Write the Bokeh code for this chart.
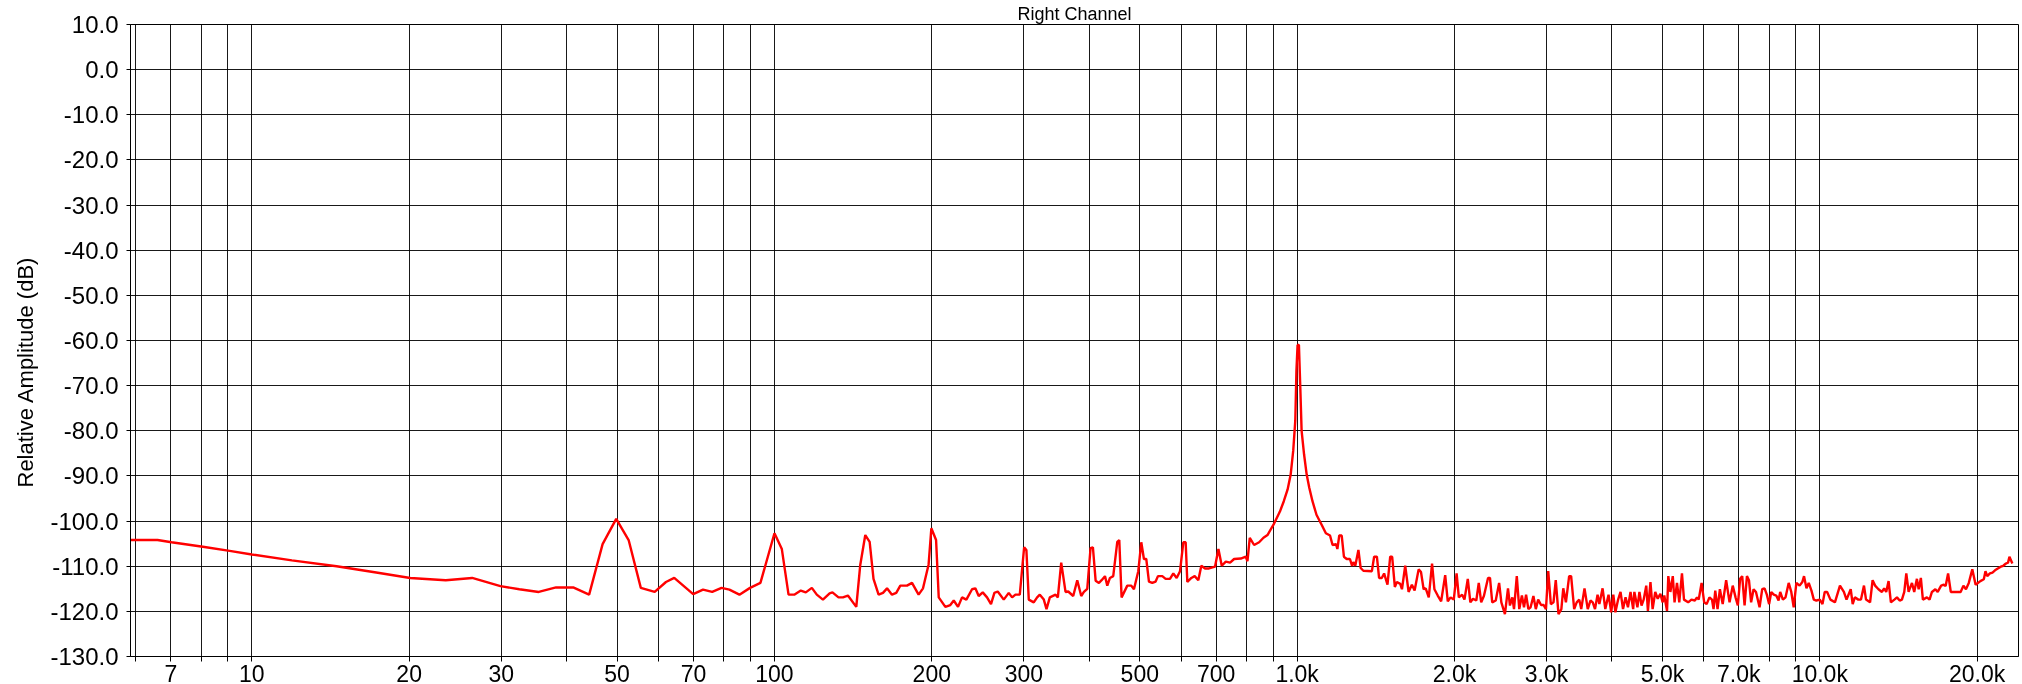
from bokeh.plotting import figure
from bokeh.models import Range1d, FixedTicker, ColumnDataSource, Title
from bokeh.embed import file_html
from bokeh.resources import INLINE

# ---- data ----
freq_hz = [
    5.86, 6.60, 7.02, 8.06, 9.07, 10.0, 11.93, 14.53, 17.3, 20.1, 23.5, 26.4, 29.9, 32.5,
    35.4, 38.2, 41.2, 44.2, 46.9, 49.8, 52.6, 55.5, 59.0, 62.0, 64.3, 69.9, 73.0, 76.0,
    79.2, 82.0, 85.7, 89.8, 94.0, 100.0,
    103.3, 106.4, 109.1, 112.3, 114.8, 117.9, 120.5, 123.8, 127.5, 129.1, 132.6, 135.2,
    138.2, 143.4, 145.9, 149.2, 152.1, 154.7, 158.2, 161.3, 164.2, 167.8, 171.0, 174.1,
    179.3, 183.3, 188.7, 192.4, 197.2, 199.6, 203.8, 206.2, 212.3, 217.0, 220.3, 224.5,
    228.5, 232.9, 238.8, 242.3, 245.9, 250.3, 255.1, 259.6, 263.5, 267.4, 274.6, 280.7,
    284.9, 289.1, 294.7, 300.4, 303.4, 306.6, 313.4, 318.1, 321.9, 327.6, 331.5, 336.4,
    345.0, 348.5, 353.7, 360.5, 364.8, 372.9, 379.6, 386.3, 390.9, 396.7, 402.5, 406.7,
    411.6, 417.7, 422.6, 428.9, 433.3, 438.4, 444.8, 452.8, 456.8, 461.5, 473.2, 481.6,
    487.3, 496.7, 503.3, 509.2, 514.5, 520.6, 528.3, 536.1, 541.7, 552.1, 560.3, 571.1,
    579.6, 588.2, 597.0, 605.7, 612.0, 616.5, 627.5, 636.8, 647.1, 655.7, 666.5, 678.3,
    696.5, 707.0, 717.5, 730.3, 744.3, 757.6, 780.2, 797.6, 803.5, 811.7, 827.4, 845.9,
    862.2, 877.6,
    904, 927, 943, 959, 972, 983, 992, 997, 1002, 1008, 1014, 1020, 1031, 1043, 1055,
    1070, 1089,
    1114, 1135, 1156, 1169, 1187, 1194, 1204, 1217, 1229, 1244, 1262, 1274, 1281, 1292,
    1310, 1323, 1339, 1390, 1404, 1421, 1435, 1452, 1467, 1489, 1507, 1520, 1538, 1552,
    1575, 1587, 1610, 1634, 1658, 1678, 1708, 1726, 1746, 1762, 1786, 1812, 1831, 1858,
    1886, 1920, 1942, 1966, 1994, 2019, 2039, 2069, 2090, 2121, 2145, 2170, 2202, 2226,
    2250, 2277, 2319, 2339, 2362, 2399, 2435, 2459, 2498, 2532, 2554, 2581, 2600, 2632,
    2661, 2692, 2717, 2742, 2770, 2797, 2832, 2862, 2892, 2929, 2963, 2993, 3023, 3058,
    3094, 3125, 3163, 3203, 3230, 3268, 3315, 3344, 3389, 3427, 3466, 3496, 3547, 3598,
    3641, 3678, 3715, 3757, 3787, 3841, 3887, 3943, 3990, 4027, 4064, 4113, 4157, 4203,
    4250, 4295, 4344, 4395, 4418, 4478, 4518, 4560, 4603, 4656, 4690, 4743, 4788, 4844,
    4897, 4954, 5005, 5041, 5102, 5131, 5178, 5233, 5274, 5331, 5385, 5449, 5498, 5600,
    5681, 5767, 5822, 5866, 5941,
    6010, 6075, 6150, 6220, 6262, 6310, 6374, 6440, 6520, 6620, 6720, 6815, 6900, 6970,
    7040, 7105, 7180, 7255, 7320, 7390, 7470, 7550, 7670, 7760, 7840, 7920, 8000, 8075,
    8165, 8255, 8340, 8400, 8500, 8600, 8720, 8820, 8915, 9020, 9150, 9260, 9330, 9430,
    9525, 9640, 9740, 9850, 10000, 10120, 10220, 10330, 10480, 10690, 10930, 11120, 11250,
    11460, 11560, 11670, 11850, 11990, 12150, 12260, 12480, 12620, 12760, 12950, 13150,
    13280, 13400, 13540, 13680, 13890, 14050, 14220, 14360, 14510, 14640, 14790, 15010,
    15160, 15340, 15460, 15610, 15750, 16030, 16220, 16390, 16640, 16810, 17070, 17270,
    17410, 17600, 17810, 18600, 18830, 19040, 19280, 19580, 19870, 20290, 20600, 20750,
    20910, 21160, 21400, 21640, 21910, 22200, 22440, 22710, 22920, 23060, 23360,
]
level_db = [
    -104.2, -104.2, -104.7, -105.7, -106.6, -107.4, -108.7, -110.0, -111.4, -112.6, -113.1,
    -112.6, -114.4, -115.1, -115.7, -114.7, -114.7, -116.3, -105.1, -99.5, -104.2, -114.8,
    -115.7, -113.5, -112.6, -116.2, -115.2, -115.7, -114.8, -115.2, -116.3, -114.8, -113.7,
    -102.7,
    -106.2, -116.3, -116.3, -115.4, -115.8, -114.8, -116.3, -117.4, -116.0, -115.8, -116.9,
    -116.9, -116.5, -119.0, -109.8, -103.1, -104.6, -112.8, -116.3, -115.9, -114.9, -116.3,
    -115.9, -114.3, -114.3, -113.7, -116.3, -114.9, -109.6, -101.6, -104.2, -116.9, -119.0,
    -118.6, -117.6, -119.0, -116.9, -117.4, -115.1, -114.9, -116.6, -115.8, -116.9, -118.4,
    -115.9, -115.6, -117.4, -115.9, -116.9, -116.3, -116.3, -105.8, -106.4, -117.4, -118.0,
    -116.9, -116.3, -117.4, -119.5, -116.9, -116.3, -116.9, -109.2, -115.7, -115.6, -116.6,
    -113.1, -116.6, -115.7, -115.0, -106.0, -105.8, -113.2, -113.7, -113.1, -112.2, -114.3,
    -112.6, -112.2, -104.6, -104.2, -116.9, -114.3, -114.3, -115.1, -111.1, -104.7, -108.4,
    -108.4, -113.4, -113.7, -113.4, -112.2, -112.2, -112.8, -112.8, -111.6, -112.6, -111.1,
    -104.7, -104.7, -113.5, -112.6, -112.2, -113.1, -109.9, -110.5, -110.5, -110.1, -106.2,
    -109.9, -109.0, -109.2, -108.4, -108.3, -107.9, -108.9, -103.7, -105.3, -104.7, -103.7,
    -103.1,
    -100.5, -97.9, -95.6, -93.0, -89.7, -84.4, -77.7, -66.6, -61.0, -61.0, -70.3, -80.0,
    -85.2, -89.7, -92.6, -95.6, -98.6,
    -100.8, -102.7, -103.2, -105.3, -105.1, -106.2, -103.2, -103.2, -107.9, -108.4, -108.4,
    -109.9, -109.1, -109.9, -106.4, -110.4, -111.0, -111.1, -107.9, -107.9, -112.6, -112.6,
    -111.6, -114.1, -107.9, -107.9, -114.6, -113.5, -113.9, -115.1, -109.9, -115.7, -114.1,
    -115.4, -110.7, -111.3, -115.1, -114.9, -116.9, -109.4, -115.1, -116.5, -117.8, -112.0,
    -117.8, -116.9, -117.4, -111.6, -116.9, -116.3, -117.4, -112.8, -118.0, -117.2, -117.6,
    -113.7, -118.0, -116.6, -112.6, -112.6, -118.0, -117.6, -113.7, -118.0, -120.6, -114.9,
    -118.7, -116.9, -119.5, -112.2, -119.5, -116.5, -119.1, -116.3, -119.5, -119.1, -116.6,
    -119.5, -117.4, -118.6, -118.6, -119.5, -111.1, -118.4, -118.0, -113.1, -120.6, -119.5,
    -114.9, -118.0, -112.2, -112.2, -119.5, -118.0, -117.4, -119.5, -114.9, -119.5, -117.6,
    -118.0, -119.5, -116.3, -118.4, -114.9, -119.5, -116.3, -120.2, -116.3, -120.2, -117.4,
    -115.7, -119.5, -116.9, -119.1, -115.7, -119.5, -115.7, -119.1, -115.7, -118.7, -117.4,
    -114.3, -119.9, -113.5, -119.5, -115.7, -117.2, -116.1, -118.0, -116.5, -119.9, -112.2,
    -115.7, -112.2, -118.0, -113.7, -118.0, -111.6, -117.4, -118.0, -117.4, -117.6, -116.9,
    -117.4, -113.7,
    -118.0, -118.4, -116.9, -117.4, -119.5, -115.4, -119.5, -115.1, -118.4, -113.1, -118.0,
    -114.3, -116.9, -118.7, -112.8, -112.2, -118.7, -112.2, -113.1, -118.0, -115.1, -115.7,
    -119.1, -115.1, -114.9, -116.3, -118.4, -115.7, -116.3, -116.5, -117.6, -115.7, -117.4,
    -116.9, -113.7, -115.7, -119.1, -113.7, -114.3, -113.5, -112.2, -114.9, -113.7, -115.4,
    -117.4, -117.6, -117.4, -118.4, -115.7, -115.7, -117.4, -118.0, -114.3, -115.7, -117.4,
    -115.1, -118.4, -116.9, -117.4, -117.4, -114.3, -117.4, -118.0, -113.1, -114.3, -115.1,
    -115.7, -114.9, -115.7, -113.3, -118.0, -117.4, -116.9, -117.6, -117.4, -115.7, -111.6,
    -115.7, -113.7, -115.7, -112.8, -115.1, -112.6, -117.4, -116.9, -117.4, -115.7, -115.1,
    -115.7, -114.3, -114.1, -114.4, -111.6, -115.7, -115.7, -114.3, -115.1, -113.7, -110.7,
    -114.1, -113.3, -112.9, -111.1, -112.2, -111.6, -111.4, -110.9, -110.5, -110.1, -109.9,
    -109.4, -109.2, -107.9, -109.4,
]

x_major_ticks = [7, 10, 20, 30, 50, 70, 100, 200, 300, 500, 700,
                 1000, 2000, 3000, 5000, 7000, 10000, 20000]
x_major_labels = ["7", "10", "20", "30", "50", "70", "100", "200", "300", "500", "700",
                  "1.0k", "2.0k", "3.0k", "5.0k", "7.0k", "10.0k", "20.0k"]
x_minor_ticks = [6, 8, 9, 40, 60, 80, 90, 400, 600, 800, 900, 4000, 6000, 8000, 9000]
y_ticks = [10, 0, -10, -20, -30, -40, -50, -60, -70, -80, -90, -100, -110, -120, -130]
y_labels = ["10.0", "0.0", "-10.0", "-20.0", "-30.0", "-40.0", "-50.0", "-60.0", "-70.0",
            "-80.0", "-90.0", "-100.0", "-110.0", "-120.0", "-130.0"]
title_text = "Right Channel"
y_title = "Relative Amplitude (dB)"

FONT = "Liberation Sans"

p = figure(
    x_axis_type="log",
    x_range=Range1d(5.86, 24000),
    y_range=Range1d(-130, 10),
    frame_width=1888, frame_height=632,
    min_border_left=130, min_border_right=4, min_border_top=22, min_border_bottom=0,
    output_backend="svg", toolbar_location=None,
    background_fill_color="white", border_fill_color="white",
    styles={"position": "fixed", "top": "0px", "left": "0px"},
)
p.outline_line_color = "black"
p.outline_line_width = 1

p.title.text = title_text
p.title.align = "center"
p.title.text_font = FONT
p.title.text_font_size = "18px"
p.title.text_font_style = "normal"
p.title.text_color = "black"
p.title.standoff = 2

ylab = Title(text=y_title, align="left", offset=169, standoff=19,
             text_font=FONT, text_font_size="22px", text_font_style="normal",
             text_color="black")
p.add_layout(ylab, "left")

xt = FixedTicker(ticks=x_major_ticks, minor_ticks=x_minor_ticks)
p.xaxis.ticker = xt
p.xgrid.ticker = xt
p.xaxis.major_label_overrides = dict(zip(x_major_ticks, x_major_labels))
yt = FixedTicker(ticks=y_ticks)
p.yaxis.ticker = yt
p.ygrid.ticker = yt
p.yaxis.major_label_overrides = dict(zip(y_ticks, y_labels))

for ax in (p.xaxis, p.yaxis):
    ax.axis_line_color = "black"
    ax.major_tick_line_color = "black"
    ax.minor_tick_line_color = "black"
    ax.major_tick_in = 0
    ax.minor_tick_in = 0
    ax.major_label_text_font = FONT
    ax.major_label_text_color = "black"
p.yaxis.major_label_text_font_size = "24px"
p.xaxis.major_label_text_font_size = "23px"
p.xaxis.major_tick_out = 5
p.xaxis.minor_tick_out = 5
p.xaxis.major_label_standoff = -1
p.yaxis.major_tick_out = 4
p.yaxis.minor_tick_line_color = None
p.yaxis.major_label_standoff = 8

p.xgrid.grid_line_color = "black"
p.xgrid.minor_grid_line_color = "black"
p.xgrid.grid_line_alpha = 0.9
p.xgrid.minor_grid_line_alpha = 0.9
p.ygrid.grid_line_color = "black"
p.ygrid.grid_line_alpha = 0.9
p.ygrid.minor_grid_line_color = None

src = ColumnDataSource(dict(f=freq_hz, db=level_db))
p.line("f", "db", source=src, line_color="#ff0000", line_width=2.4)

open("out.html", "w").write(file_html(p, INLINE))
